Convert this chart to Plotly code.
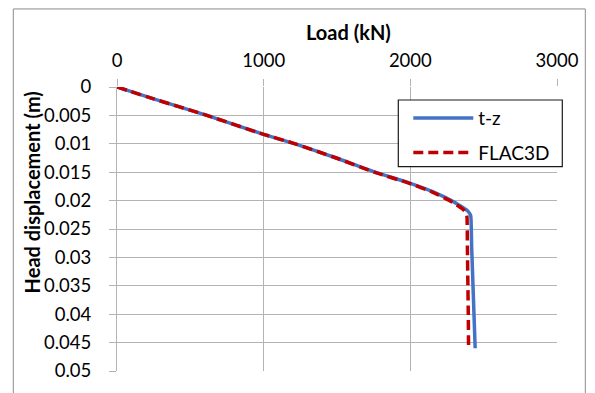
import plotly.graph_objects as go

# t-z series
tz_load = [0, 250, 613, 1000, 1215, 1495, 1760, 2000, 2160, 2280, 2345, 2380, 2400, 2412, 2418, 2426, 2434, 2442]
tz_disp = [0, 0.0021, 0.005, 0.00834, 0.0100, 0.0125, 0.0150, 0.01695, 0.0185, 0.0200, 0.0210, 0.0216, 0.0221, 0.0227, 0.028, 0.034, 0.040, 0.046]

# FLAC3D series
fl_load = [0, 250, 613, 1000, 1215, 1495, 1755, 1993, 2150, 2268, 2330, 2362, 2378, 2386, 2389, 2392, 2395, 2397]
fl_disp = [0, 0.0021, 0.005, 0.00834, 0.0100, 0.0125, 0.0150, 0.01695, 0.0185, 0.0200, 0.0210, 0.0216, 0.0221, 0.0228, 0.028, 0.034, 0.040, 0.046]

x_ticks = [0, 1000, 2000, 3000]
y_ticks = [0, 0.005, 0.01, 0.015, 0.02, 0.025, 0.03, 0.035, 0.04, 0.045, 0.05]
y_tick_text = ["0", "0.005", "0.01", "0.015", "0.02", "0.025", "0.03", "0.035", "0.04", "0.045", "0.05"]

FONT = "Lato, Carlito, Open Sans, sans-serif"
GRID = "#b3b3b3"

fig = go.Figure()
fig.add_trace(go.Scatter(x=tz_load, y=tz_disp, mode="lines", name="t-z", legendgroup="a",
                         line=dict(color="#4472C4", width=3.5, shape="spline", smoothing=0.4)))
fig.add_trace(go.Scatter(x=fl_load, y=fl_disp, mode="lines", name="FLAC3D", legendgroup="b",
                         line=dict(color="#C00000", width=3.5, dash="10px,5px", shape="spline", smoothing=0.4)))

PX0, PY0, PW, PH = 116.7, 86.7, 440.0, 290.0


def px(x):
    return (x - PX0) / PW


def py(y):
    return 1 - (y - PY0) / PH


# page body has an 8px margin: shift figure so plot area lands at x 117-557, y 87-377
fig.update_layout(
    width=587, height=385,
    margin=dict(l=109, r=38, t=79, b=16),
    paper_bgcolor="white", plot_bgcolor="white",
    font=dict(family=FONT, size=18, color="#000000"),
    showlegend=True,
    legend=dict(x=px(408), y=py(99), xanchor="left", yanchor="top",
                bgcolor="rgba(0,0,0,0)", borderwidth=0,
                font=dict(family=FONT, size=19), tracegroupgap=7,
                itemwidth=60),
    xaxis=dict(side="top", range=[0, 3000], tickvals=x_ticks,
               showgrid=True, gridcolor=GRID, gridwidth=1,
               zeroline=False, showline=False,
               ticks="outside", ticklen=7, tickcolor=GRID,
               ticklabelstandoff=5,
               tickfont=dict(family=FONT, size=18.5)),
    yaxis=dict(range=[0.05, 0], tickvals=y_ticks, ticktext=y_tick_text,
               showgrid=True, gridcolor=GRID, gridwidth=1,
               zeroline=False, showline=True, linecolor=GRID, linewidth=1,
               ticks="outside", ticklen=7, tickcolor=GRID,
               ticklabelstandoff=14,
               tickfont=dict(family=FONT, size=18.5)),
)

# axis titles
fig.add_annotation(text="<b>Load (kN)</b>", xref="paper", yref="paper",
                   x=px(348), y=py(31),
                   showarrow=False, font=dict(family=FONT, size=20),
                   xanchor="center", yanchor="middle")
fig.add_annotation(text="<b>Head displacement (m)</b>", xref="paper", yref="paper",
                   x=px(32), y=py(194),
                   showarrow=False, textangle=-90, font=dict(family=FONT, size=20),
                   xanchor="center", yanchor="middle")

# chart-area border
fig.add_shape(type="rect", xref="paper", yref="paper",
              x0=px(13), x1=px(585), y0=py(405), y1=py(7),
              line=dict(color="#8c8c8c", width=1), layer="below")

# legend box
fig.add_shape(type="rect", xref="paper", yref="paper",
              x0=px(398), x1=px(562), y0=py(168), y1=py(100),
              line=dict(color="#1a1a1a", width=1.2), fillcolor="white", layer="above")

fig.write_html("out.html")
